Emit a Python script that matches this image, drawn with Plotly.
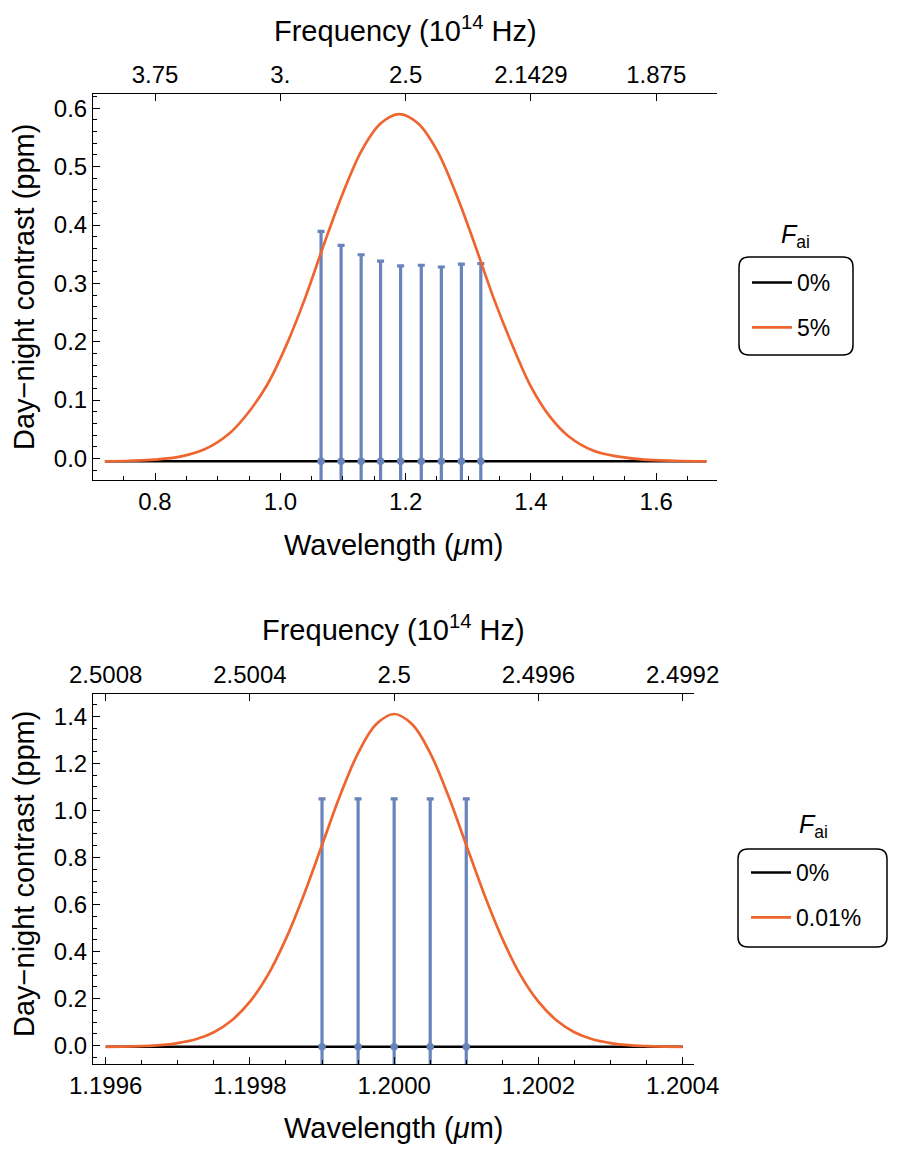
import plotly.graph_objects as go

# data
# top panel: broad line, F_ai = 5%
wl_top = [0.72, 0.76, 0.80, 0.84, 0.88, 0.92, 0.95, 0.98, 1.01, 1.04, 1.07, 1.10, 1.13, 1.16,
          1.19, 1.22, 1.25, 1.28, 1.31, 1.34, 1.37, 1.40, 1.43, 1.46, 1.50, 1.54, 1.58, 1.63, 1.68]
contrast_top = [-0.005, -0.004, -0.002, 0.003, 0.016, 0.044, 0.080, 0.128, 0.195, 0.276, 0.368,
                0.455, 0.528, 0.574, 0.590, 0.574, 0.528, 0.455, 0.368, 0.276, 0.195, 0.123,
                0.072, 0.038, 0.013, 0.003, -0.002, -0.004, -0.005]
flat_top = [-0.005] * len(wl_top)
bins_top = [1.065, 1.097, 1.129, 1.160, 1.192, 1.225, 1.257, 1.289, 1.320]
bins_top_y = [-0.005] * len(bins_top)
caps_top = [0.389, 0.365, 0.349, 0.338, 0.330, 0.331, 0.328, 0.333, 0.334]

# bottom panel: narrow line, F_ai = 0.01%
wl_bot = [1.199600, 1.199625, 1.199650, 1.199675, 1.199700, 1.199725, 1.199750, 1.199775,
          1.199800, 1.199825, 1.199850, 1.199875, 1.199900, 1.199925, 1.199950, 1.199975,
          1.200000, 1.200025, 1.200050, 1.200075, 1.200100, 1.200125, 1.200150, 1.200175,
          1.200200, 1.200225, 1.200250, 1.200275, 1.200300, 1.200325, 1.200350, 1.200375,
          1.200400]
contrast_bot = [-0.005, -0.004, -0.002, 0.002, 0.011, 0.027, 0.057, 0.108, 0.187, 0.301, 0.455,
                0.643, 0.853, 1.063, 1.244, 1.366, 1.410, 1.366, 1.244, 1.063, 0.853, 0.643,
                0.455, 0.301, 0.187, 0.108, 0.057, 0.027, 0.011, 0.002, -0.002, -0.004, -0.005]
flat_bot = [-0.005] * len(wl_bot)
bins_bot = [1.19990, 1.19995, 1.20000, 1.20005, 1.20010]
bins_bot_y = [-0.005] * len(bins_bot)
caps_bot = [1.049, 1.049, 1.049, 1.049, 1.049]

# frequency (10^14 Hz) labels for the top axes
freq_ticks_top = [0.8, 1.0, 1.2, 1.4, 1.6]
freq_labels_top = ["3.75", "3.", "2.5", "2.1429", "1.875"]
freq_ticks_bot = [1.1996, 1.1998, 1.2000, 1.2002, 1.2004]
freq_labels_bot = ["2.5008", "2.5004", "2.5", "2.4996", "2.4992"]

# the page puts the figure 8px in from the top-left corner
OFF = 8
W, H = 898 - OFF, 1152 - OFF
FONT = "Liberation Sans"
BLUE = "#6884ba"
ORANGE = "#ee6530"


def px(x):
    return (x - OFF) / W


def py(y):
    return 1 - (y - OFF) / H


def rounded_box(x0, y0, x1, y1, r=10):
    # path in paper coords from window pixel corners
    rx, ry = r / W, r / H
    a, b, c, d = px(x0), py(y1), px(x1), py(y0)
    return (f"M{a+rx},{b} L{c-rx},{b} Q{c},{b} {c},{b+ry} L{c},{d-ry} Q{c},{d} {c-rx},{d} "
            f"L{a+rx},{d} Q{a},{d} {a},{d-ry} L{a},{b+ry} Q{a},{b} {a+rx},{b} Z")


fig = go.Figure()

# top panel
fig.add_trace(go.Scatter(x=wl_top, y=flat_top, mode="lines", name="0%",
                         line=dict(color="black", width=2.5), xaxis="x", yaxis="y",
                         legend="legend", legendgroup="a"))
fig.add_trace(go.Scatter(x=bins_top, y=bins_top_y, mode="markers", showlegend=False,
                         marker=dict(color=BLUE, size=7.5),
                         error_y=dict(type="data", array=[c - y0 for c, y0 in zip(caps_top, bins_top_y)],
                                      color=BLUE, thickness=3.2, width=3.5),
                         xaxis="x", yaxis="y"))
fig.add_trace(go.Scatter(x=wl_top, y=contrast_top, mode="lines", name="5%", line_shape="spline",
                         line=dict(color=ORANGE, width=2.7), xaxis="x2", yaxis="y",
                         legend="legend", legendgroup="b"))

# bottom panel
fig.add_trace(go.Scatter(x=wl_bot, y=flat_bot, mode="lines", name="0%",
                         line=dict(color="black", width=2.5), xaxis="x3", yaxis="y2",
                         legend="legend2", legendgroup="c"))
fig.add_trace(go.Scatter(x=bins_bot, y=bins_bot_y, mode="markers", showlegend=False,
                         marker=dict(color=BLUE, size=7.5),
                         error_y=dict(type="data", array=[c - y0 for c, y0 in zip(caps_bot, bins_bot_y)],
                                      color=BLUE, thickness=3.2, width=3.5),
                         xaxis="x3", yaxis="y2"))
fig.add_trace(go.Scatter(x=wl_bot, y=contrast_bot, mode="lines", name="0.01%", line_shape="spline",
                         line=dict(color=ORANGE, width=2.7), xaxis="x4", yaxis="y2",
                         legend="legend2", legendgroup="d"))

tick_font = dict(family=FONT, size=24, color="black")
axis_common = dict(showgrid=False, zeroline=False, showline=True, linecolor="black", linewidth=1,
                   ticks="inside", ticklen=7, tickcolor="black", tickfont=tick_font,
                   automargin=False)

top_dom = [px(93), px(717)]
bot_dom = [px(93), px(694)]
range_top = [0.701, 1.697]
range_bot = [1.1995824, 1.2004158]
minor_style = dict(ticklen=4, ticks="inside", tickcolor="black")

fig.update_layout(
    width=W, height=H, margin=dict(l=0, r=0, t=0, b=0),
    paper_bgcolor="white", plot_bgcolor="white",
    font=dict(family=FONT, color="black"),
    xaxis=dict(axis_common, domain=top_dom, anchor="y", range=range_top, tick0=0.8, dtick=0.2,
               tickformat=".1f", minor=dict(minor_style, dtick=0.05)),
    xaxis2=dict(axis_common, domain=top_dom, anchor="y", overlaying="x", side="top",
                range=range_top, tickmode="array", tickvals=freq_ticks_top, ticktext=freq_labels_top),
    yaxis=dict(axis_common, domain=[py(480), py(94)], anchor="x", range=[-0.037, 0.6245],
               tick0=0, dtick=0.1, tickformat=".1f", minor=dict(minor_style, dtick=0.02)),
    xaxis3=dict(axis_common, domain=bot_dom, anchor="y2", range=range_bot, tickmode="array",
                tickvals=freq_ticks_bot, ticktext=[f"{v:.4f}" for v in freq_ticks_bot],
                minor=dict(minor_style, dtick=0.00005, tick0=1.1996)),
    xaxis4=dict(axis_common, domain=bot_dom, anchor="y2", overlaying="x3", side="top",
                range=range_bot, tickmode="array", tickvals=freq_ticks_bot, ticktext=freq_labels_bot),
    yaxis2=dict(axis_common, domain=[py(1064), py(694)], anchor="x3", range=[-0.078, 1.495],
                tick0=0, dtick=0.2, tickformat=".1f", minor=dict(minor_style, dtick=0.05)),
    legend=dict(x=px(747), y=py(261), xanchor="left", yanchor="top", bgcolor="rgba(0,0,0,0)",
                borderwidth=0, font=dict(family=FONT, size=23), tracegroupgap=12,
                itemwidth=40, traceorder="grouped"),
    legend2=dict(x=px(746), y=py(851), xanchor="left", yanchor="top", bgcolor="rgba(0,0,0,0)",
                 borderwidth=0, font=dict(family=FONT, size=23), tracegroupgap=12,
                 itemwidth=40, traceorder="grouped"),
)

title_font = dict(family=FONT, size=29, color="black")
annos = [
    ("Frequency (10<sup>14</sup> Hz)", 405, 29, 0),
    ("Wavelength (<i>μ</i>m)", 394, 545, 0),
    ("Day−night contrast (ppm)", 24, 287, -90),
    ("Frequency (10<sup>14</sup> Hz)", 393, 628, 0),
    ("Wavelength (<i>μ</i>m)", 394, 1128, 0),
    ("Day−night contrast (ppm)", 24, 874, -90),
]
for text, x, y, ang in annos:
    fig.add_annotation(text=text, x=px(x), y=py(y), xref="paper", yref="paper", showarrow=False,
                       xanchor="center", yanchor="middle", textangle=ang, font=title_font)

for x, y in [(795, 236), (813, 826)]:
    fig.add_annotation(text="<i>F</i><sub>ai</sub>", x=px(x), y=py(y), xref="paper", yref="paper",
                       showarrow=False, xanchor="center", yanchor="middle",
                       font=dict(family=FONT, size=25, color="black"))

for box in [(739, 257, 853, 355), (738, 849, 887, 947)]:
    fig.add_shape(type="path", path=rounded_box(*box), xref="paper", yref="paper",
                  line=dict(color="black", width=1.5), fillcolor="rgba(0,0,0,0)")

fig.write_html("out.html")
